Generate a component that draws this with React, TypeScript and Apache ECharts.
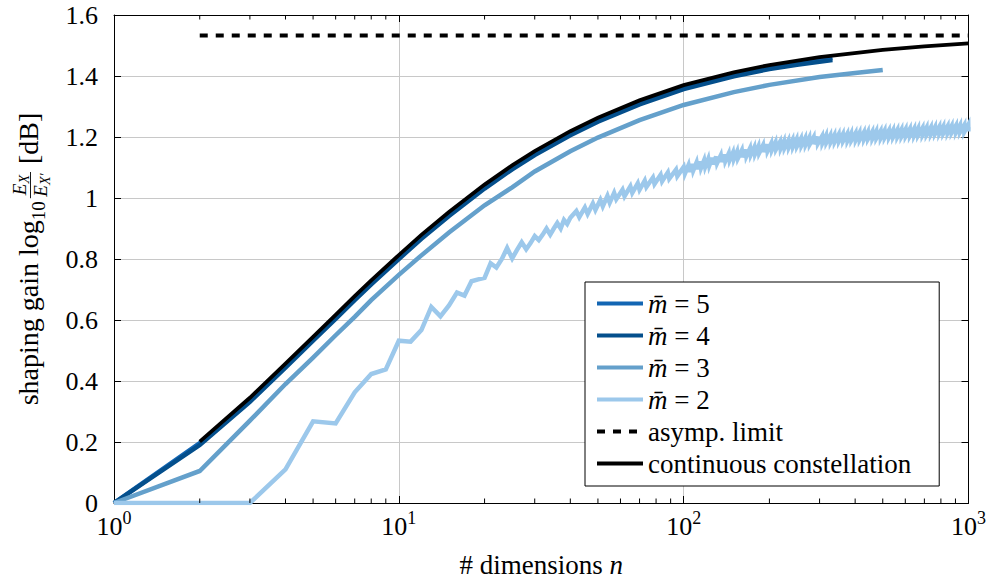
import React, { useEffect, useRef } from 'react';
import * as echarts from 'echarts';

const FONT = 'Liberation Serif';

// ---- data ----
const seriesNames = ['m\u0304 = 5', 'm\u0304 = 4', 'm\u0304 = 3', 'm\u0304 = 2', 'asymp. limit', 'continuous constellation'];
const seriesColors = ['#1366b3', '#044f8c', '#64a0cb', '#9cc8eb', '#000000', '#000000'];

const nM45 = [1, 2, 3, 4, 5, 6, 7, 8, 10, 12, 15, 20, 25, 30, 40, 50, 70, 100, 150, 200, 250, 333];
const gainM5 = [0, 0.196, 0.339, 0.451, 0.539, 0.611, 0.672, 0.724, 0.807, 0.873, 0.948, 1.038, 1.101, 1.148, 1.213, 1.257, 1.314, 1.364, 1.406, 1.43, 1.444, 1.459];
const gainM4 = [0, 0.19, 0.332, 0.444, 0.532, 0.604, 0.665, 0.717, 0.8, 0.866, 0.941, 1.031, 1.094, 1.141, 1.206, 1.25, 1.307, 1.357, 1.399, 1.423, 1.437, 1.452];

const nM3 = [1, 2, 3, 4, 5, 6, 7, 8, 10, 12, 15, 20, 25, 30, 40, 50, 70, 100, 150, 200, 300, 400, 500];
const gainM3 = [0, 0.105, 0.27, 0.39, 0.477, 0.55, 0.61, 0.665, 0.748, 0.812, 0.887, 0.976, 1.035, 1.087, 1.153, 1.198, 1.255, 1.305, 1.347, 1.371, 1.397, 1.41, 1.42];

const m2Points: [number, number][] = [
  [1, 0], [2, 0], [3, 0], [4, 0.11], [5, 0.268], [6, 0.261], [7, 0.363], [8, 0.423], [9, 0.438], [10, 0.532],
  [11, 0.529], [12, 0.567], [13, 0.643], [14, 0.612], [15, 0.648], [16, 0.69], [17, 0.68], [18, 0.727], [19, 0.733], [20, 0.738],
  [21, 0.786], [22, 0.772], [23, 0.8], [24, 0.836], [25, 0.802], [26, 0.83], [27, 0.855], [28, 0.832], [29, 0.852], [30, 0.875],
  [31, 0.862], [32, 0.88], [33, 0.9], [34, 0.88], [35, 0.9], [36, 0.918], [37, 0.9], [38, 0.928], [39, 0.915], [40, 0.935],
  [42, 0.957], [43, 0.937], [45, 0.969], [46, 0.948], [48, 0.982], [49, 0.961], [51, 0.994], [52, 0.973], [54, 1.007], [55, 0.985],
  [57, 1.017], [58, 0.996], [61, 1.027], [62, 1.006], [65, 1.038], [66, 1.017], [69, 1.048], [70, 1.027], [73, 1.057], [74, 1.036],
  [78, 1.067], [79, 1.046], [83, 1.076], [84, 1.055], [88, 1.084], [89, 1.063], [94, 1.093], [95, 1.072],
  [100, 1.102], [101, 1.08], [104, 1.108], [105, 1.086], [107, 1.112], [108, 1.09], [111, 1.117], [112, 1.095],
  [114, 1.12], [115, 1.098], [118, 1.124], [119, 1.102], [122, 1.128], [123, 1.106], [126, 1.132], [127, 1.11],
  [130, 1.136], [131, 1.114], [135, 1.14], [136, 1.118], [139, 1.143], [140, 1.121], [144, 1.146], [145, 1.124],
  [149, 1.149], [150, 1.127], [154, 1.152], [155, 1.13], [160, 1.156], [161, 1.134], [165, 1.159], [166, 1.137],
  [171, 1.163], [172, 1.141], [177, 1.166], [178, 1.144], [183, 1.169], [184, 1.147], [190, 1.173], [191, 1.151],
  [196, 1.176], [197, 1.154], [203, 1.179], [204, 1.157], [210, 1.182], [211, 1.16], [218, 1.184], [219, 1.162],
  [225, 1.186], [226, 1.164], [233, 1.188], [234, 1.166], [241, 1.19], [242, 1.168], [249, 1.192], [250, 1.17],
  [258, 1.194], [259, 1.172], [267, 1.196], [268, 1.174], [276, 1.198], [277, 1.176], [286, 1.199], [287, 1.177],
  [295, 1.201], [296, 1.179], [306, 1.202], [307, 1.18], [316, 1.204], [317, 1.182], [327, 1.205], [328, 1.183],
  [338, 1.206], [339, 1.184], [350, 1.208], [351, 1.186], [362, 1.209], [363, 1.187], [375, 1.21], [376, 1.188],
  [387, 1.211], [388, 1.189], [401, 1.212], [402, 1.19], [414, 1.213], [415, 1.191], [429, 1.215], [430, 1.193],
  [443, 1.216], [444, 1.194], [459, 1.217], [460, 1.195], [474, 1.218], [475, 1.196], [491, 1.219], [492, 1.197],
  [507, 1.22], [508, 1.198], [525, 1.221], [526, 1.199], [543, 1.222], [544, 1.2], [562, 1.223], [563, 1.201],
  [581, 1.224], [582, 1.202], [601, 1.225], [602, 1.203], [622, 1.226], [623, 1.204], [644, 1.227], [645, 1.205],
  [665, 1.228], [666, 1.206], [689, 1.229], [690, 1.207], [712, 1.23], [713, 1.208], [737, 1.231], [738, 1.209],
  [762, 1.232], [763, 1.21], [789, 1.233], [790, 1.211], [815, 1.234], [816, 1.212], [844, 1.235], [845, 1.213],
  [872, 1.236], [873, 1.214], [903, 1.237], [904, 1.215], [933, 1.238], [934, 1.216], [966, 1.239], [967, 1.217],
  [998, 1.24], [999, 1.218], [1000, 1.232],
];

const nAsym = [2, 1000];
const gainAsym = [1.533, 1.533];

const nCont = [2, 3, 4, 5, 6, 7, 8, 10, 12, 15, 20, 25, 30, 40, 50, 70, 100, 150, 200, 300, 500, 700, 1000];
const gainCont = [0.201, 0.345, 0.457, 0.545, 0.617, 0.678, 0.73, 0.813, 0.879, 0.954, 1.044, 1.107, 1.154, 1.219, 1.263, 1.32, 1.37, 1.412, 1.436, 1.462, 1.486, 1.497, 1.507];

const xMin = 1;
const xMax = 1000;
const yMin = 0;
const yMax = 1.6;
const yStep = 0.2;
const minorTicksN = [2, 3, 4, 5, 6, 7, 8, 9, 20, 30, 40, 50, 60, 70, 80, 90, 200, 300, 400, 500, 600, 700, 800, 900];

const zip = (xs: number[], ys: number[]) => xs.map((x, i) => [x, ys[i]]);

function measure(text: string, size: number, italic = false): number {
  const ctx = document.createElement('canvas').getContext('2d');
  if (!ctx) return text.length * size * 0.5;
  ctx.font = `${italic ? 'italic ' : ''}${size}px "${FONT}"`;
  return ctx.measureText(text).width;
}

function yLabelGraphic() {
  const S = 28;
  const SS = 19;
  const SSS = 14;
  const s1 = 'shaping gain log';
  const w1 = measure(s1, S);
  const w10 = measure('10', SS);
  const eW = measure('E', SS, true);
  const xW = measure('X', SSS, true);
  const xpW = measure('X\u2032', SSS, true);
  const numW = eW + xW;
  const denW = eW + xpW;
  const fw = Math.max(numW, denW) + 3;
  const wdB = measure('[dB]', S);
  const gapA = 3;
  const gapB = 8;
  const W = w1 + w10 + gapA + fw + gapB + wdB;
  const x0 = -W / 2;
  const fx = x0 + w1 + w10 + gapA;
  const base = { fontFamily: FONT, fill: '#000', verticalAlign: 'middle', align: 'left' };
  const it = { ...base, fontStyle: 'italic' };
  const nx = fx + (fw - numW) / 2;
  const dx = fx + (fw - denW) / 2;
  return {
    type: 'group',
    x: 38,
    y: 259,
    rotation: Math.PI / 2,
    children: [
      { type: 'text', x: x0, y: -0.34 * S, style: { ...base, text: s1, fontSize: S } },
      { type: 'text', x: x0 + w1, y: 6.5 - 0.34 * SS, style: { ...base, text: '10', fontSize: SS } },
      { type: 'text', x: nx, y: -12 - 0.34 * SS, style: { ...it, text: 'E', fontSize: SS } },
      { type: 'text', x: nx + eW, y: -9 - 0.34 * SSS, style: { ...it, text: 'X', fontSize: SSS } },
      { type: 'line', shape: { x1: fx, y1: -7.5, x2: fx + fw, y2: -7.5 }, style: { stroke: '#000', lineWidth: 0.9 } },
      { type: 'text', x: dx, y: 8.5 - 0.34 * SS, style: { ...it, text: 'E', fontSize: SS } },
      { type: 'text', x: dx + eW, y: 12 - 0.34 * SSS, style: { ...it, text: 'X\u2032', fontSize: SSS } },
      { type: 'text', x: fx + fw + gapB, y: -0.34 * S, style: { ...base, text: '[dB]', fontSize: S } },
    ],
  };
}

export default function App() {
  const ref = useRef<HTMLDivElement>(null);
  useEffect(() => {
    if (!ref.current) return;
    const chart = echarts.init(ref.current, undefined, { renderer: 'svg' });
    const lineSeries = (name: string, color: string, data: number[][], width: number, dash?: number[]) => ({
      type: 'line',
      name,
      data,
      symbol: 'none',
      showSymbol: false,
      lineStyle: { color, width, type: dash ? dash : 'solid', cap: 'butt', join: 'miter' },
      itemStyle: { color },
      emphasis: { disabled: true },
      silent: true,
      xAxisIndex: 0,
      yAxisIndex: 0,
    });
    const tickCommon = {
      axisLine: { show: true, onZero: false, lineStyle: { color: '#000', width: 1 } },
      axisTick: { show: true, inside: true, length: 7, lineStyle: { color: '#000', width: 1 } },
    };
    const option: any = {
      animation: false,
      backgroundColor: '#fff',
      textStyle: { fontFamily: FONT },
      grid: { left: 114, right: 20, top: 15, bottom: 81, containLabel: false },
      xAxis: [
        {
          type: 'log',
          logBase: 10,
          min: xMin,
          max: xMax,
          position: 'bottom',
          ...tickCommon,
          splitLine: { show: true, lineStyle: { color: '#c8c8c8', width: 1 } },
          axisLabel: {
            margin: 6,
            color: '#000',
            fontFamily: FONT,
            fontSize: 26,
            formatter: (v: number) => `{b|10}{s|${Math.round(Math.log10(v))}}`,
            rich: {
              b: { fontFamily: FONT, fontSize: 26, color: '#000', lineHeight: 30, verticalAlign: 'bottom' },
              s: { fontFamily: FONT, fontSize: 18, color: '#000', lineHeight: 18, verticalAlign: 'top' },
            },
          },
          name: '# dimensions {i|n}',
          nameLocation: 'middle',
          nameGap: 48,
          nameTextStyle: {
            fontFamily: FONT,
            fontSize: 27,
            color: '#000',
            rich: { i: { fontFamily: FONT, fontSize: 27, fontStyle: 'italic', color: '#000' } },
          },
        },
        {
          type: 'log',
          logBase: 10,
          min: xMin,
          max: xMax,
          position: 'top',
          ...tickCommon,
          splitLine: { show: false },
          axisLabel: { show: false },
        },
      ],
      yAxis: [
        {
          type: 'value',
          min: yMin,
          max: yMax,
          interval: yStep,
          position: 'left',
          ...tickCommon,
          splitLine: { show: true, lineStyle: { color: '#c8c8c8', width: 1 } },
          axisLabel: {
            margin: 16,
            color: '#000',
            fontFamily: FONT,
            fontSize: 26,
            formatter: (v: number) => String(Number(v.toFixed(1))),
          },
        },
        {
          type: 'value',
          min: yMin,
          max: yMax,
          interval: yStep,
          position: 'right',
          ...tickCommon,
          splitLine: { show: false },
          axisLabel: { show: false },
        },
      ],
      legend: {
        data: seriesNames,
        orient: 'vertical',
        left: 585,
        top: 282,
        backgroundColor: '#fff',
        borderColor: '#000',
        borderWidth: 1,
        borderRadius: 0,
        padding: [8, 28, 9, 10],
        itemWidth: 46,
        itemHeight: 14,
        itemGap: 5,
        selectedMode: false,
        itemStyle: { color: 'transparent', borderWidth: 0, opacity: 0 },
        lineStyle: { width: 4 },
        textStyle: {
          fontFamily: FONT,
          fontSize: 27,
          color: '#000',
          rich: { i: { fontFamily: FONT, fontSize: 27, fontStyle: 'italic', color: '#000' } },
        },
        formatter: (name: string) => (name.startsWith('m') ? `{i|m\u0304} = ${name.slice(-1)}` : name),
      },
      graphic: [yLabelGraphic()],
      series: [
        lineSeries(seriesNames[0], seriesColors[0], zip(nM45, gainM5), 4.5),
        lineSeries(seriesNames[1], seriesColors[1], zip(nM45, gainM4), 4.5),
        lineSeries(seriesNames[2], seriesColors[2], zip(nM3, gainM3), 4.5),
        lineSeries(seriesNames[3], seriesColors[3], m2Points, 4.5),
        lineSeries(seriesNames[4], seriesColors[4], zip(nAsym, gainAsym), 4, [8, 8]),
        lineSeries(seriesNames[5], seriesColors[5], zip(nCont, gainCont), 3.8),
        {
          type: 'custom',
          name: 'minor ticks',
          coordinateSystem: 'cartesian2d',
          xAxisIndex: 0,
          yAxisIndex: 0,
          silent: true,
          clip: false,
          z: 5,
          data: minorTicksN.map((n) => [n, 0]),
          renderItem: (_p: any, api: any) => {
            const n = api.value(0);
            const b = api.coord([n, yMin]);
            const t = api.coord([n, yMax]);
            return {
              type: 'group',
              children: [
                { type: 'line', shape: { x1: b[0], y1: b[1], x2: b[0], y2: b[1] - 4.5 }, style: { stroke: '#000', lineWidth: 1 } },
                { type: 'line', shape: { x1: t[0], y1: t[1], x2: t[0], y2: t[1] + 4.5 }, style: { stroke: '#000', lineWidth: 1 } },
              ],
            };
          },
        },
      ],
    };
    chart.setOption(option);
    return () => chart.dispose();
  }, []);
  return <div ref={ref} style={{ position: 'fixed', left: 0, top: 0, width: 989, height: 584 }} />;
}
